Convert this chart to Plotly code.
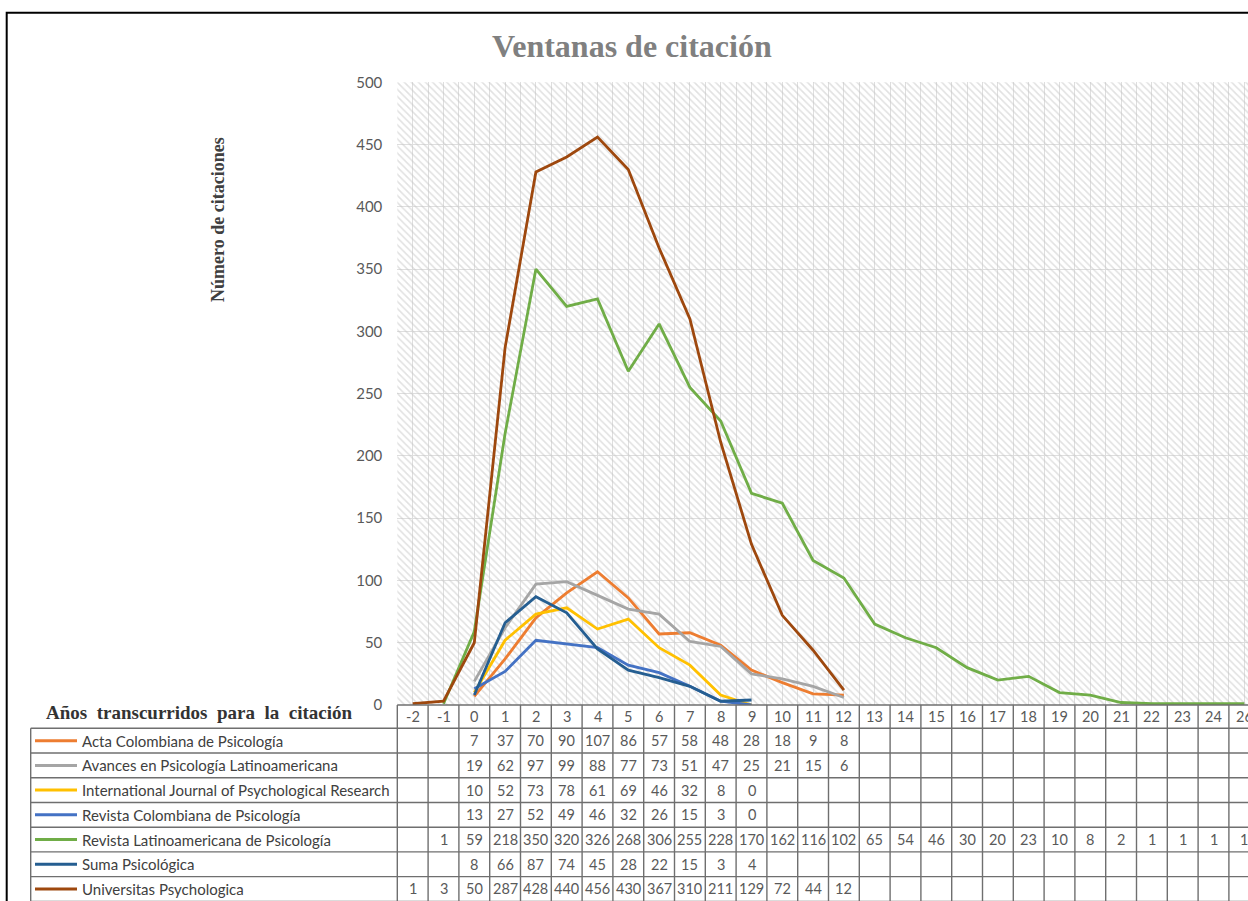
import plotly.graph_objects as go

# ---------------- data ----------------
categories = ["-2", "-1", "0", "1", "2", "3", "4", "5", "6", "7", "8", "9", "10", "11",
              "12", "13", "14", "15", "16", "17", "18", "19", "20", "21", "22", "23", "24", "26"]

acta = [None, None, 7, 37, 70, 90, 107, 86, 57, 58, 48, 28, 18, 9, 8]
avances = [None, None, 19, 62, 97, 99, 88, 77, 73, 51, 47, 25, 21, 15, 6]
ijpr = [None, None, 10, 52, 73, 78, 61, 69, 46, 32, 8, 0]
rev_col = [None, None, 13, 27, 52, 49, 46, 32, 26, 15, 3, 0]
rev_lat = [None, 1, 59, 218, 350, 320, 326, 268, 306, 255, 228, 170, 162, 116, 102,
           65, 54, 46, 30, 20, 23, 10, 8, 2, 1, 1, 1, 1]
suma = [None, None, 8, 66, 87, 74, 45, 28, 22, 15, 3, 4]
univ = [1, 3, 50, 287, 428, 440, 456, 430, 367, 310, 211, 129, 72, 44, 12]

series_names = ["Acta Colombiana de Psicología",
                "Avances en Psicología Latinoamericana",
                "International Journal of Psychological Research",
                "Revista Colombiana de Psicología",
                "Revista Latinoamericana de Psicología",
                "Suma Psicológica",
                "Universitas Psychologica"]
series_values = [acta, avances, ijpr, rev_col, rev_lat, suma, univ]
series_colors = ["#ED7D31", "#A5A5A5", "#FFC000", "#4472C4", "#70AD47", "#255E91", "#9E480E"]

title_text = "Ventanas de citación"
y_title_text = "Número de citaciones"
x_title_text = "Años  transcurridos  para  la  citación"
Y_MAX = 500
Y_STEP = 50

# ---------------- layout helpers ----------------
W, H = 1248, 901
n = len(categories)
idx = list(range(n))


def pad(vals):
    return list(vals) + [None] * (n - len(vals))


def px(p):
    return p / W


def py(p):
    return 1 - p / H


X0 = 397.3          # plot-area left edge (px)
COLW = 30.8         # column width (px)
x_right = (W - X0) / COLW - 0.5
Y_TOP, Y_BOT = 82.3, 705.0

HEADER_TOP = 705.0
HEADER_BOT = 728.3
ROW_H = 24.72
row_edges = [HEADER_BOT + k * ROW_H for k in range(len(series_names) + 1)]
LEG_LEFT = 30.7

GRID = "#dedede"
TABLE_LINE = "#6f6f6f"
NUM_COLOR = "#595959"
SANS = "Lato, 'Open Sans', sans-serif"
SERIF = "'Liberation Serif', 'Times New Roman', serif"

fig = go.Figure()

# hatch background of the plot area
fig.add_trace(go.Bar(
    x=idx, y=[Y_MAX] * n, width=1,
    marker=dict(color="rgba(0,0,0,0)", line_width=0,
                pattern=dict(shape="\\", fgcolor="#c4c4c4", bgcolor="rgba(0,0,0,0)",
                             size=5, solidity=0.32)),
    hoverinfo="skip", showlegend=False))

for name, vals, color in zip(series_names, series_values, series_colors):
    fig.add_trace(go.Scatter(
        x=idx, y=pad(vals), mode="lines", name=name,
        line=dict(color=color, width=2.8), connectgaps=False, showlegend=False))

shapes = []
annotations = []

# outer black frame
shapes.append(dict(type="rect", xref="paper", yref="paper",
                   x0=px(6.7), x1=1.05, y0=-0.05, y1=py(12.7),
                   line=dict(color="black", width=2), fillcolor="rgba(0,0,0,0)", layer="above"))

# table horizontal lines
shapes.append(dict(type="line", xref="paper", yref="paper", x0=px(X0), x1=1,
                   y0=py(HEADER_TOP), y1=py(HEADER_TOP),
                   line=dict(color=TABLE_LINE, width=1.4), layer="above"))
for e in row_edges:
    shapes.append(dict(type="line", xref="paper", yref="paper", x0=px(LEG_LEFT), x1=1,
                       y0=py(e), y1=py(e), line=dict(color=TABLE_LINE, width=1.4), layer="above"))
# table vertical lines
shapes.append(dict(type="line", xref="paper", yref="paper", x0=px(X0), x1=px(X0),
                   y0=py(HEADER_TOP), y1=-0.05, line=dict(color=TABLE_LINE, width=1.4), layer="above"))
shapes.append(dict(type="line", xref="paper", yref="paper", x0=px(LEG_LEFT), x1=px(LEG_LEFT),
                   y0=py(HEADER_BOT), y1=-0.05, line=dict(color=TABLE_LINE, width=1.4), layer="above"))
for i in range(1, n + 1):
    shapes.append(dict(type="line", xref="x", yref="paper", x0=i - 0.5, x1=i - 0.5,
                       y0=py(HEADER_TOP), y1=-0.05, line=dict(color=TABLE_LINE, width=1.4), layer="above"))

# header row (categories)
hy = py((HEADER_TOP + HEADER_BOT) / 2)
for i, c in zip(idx, categories):
    annotations.append(dict(xref="x", yref="paper", x=i, y=hy, text=c, showarrow=False,
                            font=dict(family=SANS, size=14.5, color=NUM_COLOR),
                            xanchor="center", yanchor="middle"))

# series rows
for r, (name, vals, color) in enumerate(zip(series_names, series_values, series_colors)):
    cy = (row_edges[r] + row_edges[r + 1]) / 2
    shapes.append(dict(type="line", xref="paper", yref="paper", x0=px(35), x1=px(77),
                       y0=py(cy), y1=py(cy), line=dict(color=color, width=3), layer="above"))
    annotations.append(dict(xref="paper", yref="paper", x=px(80), y=py(cy), text=name,
                            showarrow=False, xanchor="left", yanchor="middle",
                            font=dict(family=SANS, size=15, color="#404040")))
    for i, v in zip(idx, pad(vals)):
        if v is None:
            continue
        annotations.append(dict(xref="x", yref="paper", x=i, y=py(cy), text=str(v),
                                showarrow=False, xanchor="center", yanchor="middle",
                                font=dict(family=SANS, size=14.5, color=NUM_COLOR)))

# titles
annotations.append(dict(xref="paper", yref="paper", x=px(631.5), y=py(46), text=f"<b>{title_text}</b>",
                        showarrow=False, xanchor="center", yanchor="middle",
                        font=dict(family=SERIF, size=32, color="#808080")))
annotations.append(dict(xref="paper", yref="paper", x=px(218), y=py(220), text=f"<b>{y_title_text}</b>",
                        showarrow=False, xanchor="center", yanchor="middle", textangle=-90,
                        font=dict(family=SERIF, size=18, color="#404040")))
annotations.append(dict(xref="paper", yref="paper", x=px(44), y=py(712), text=f"<b>{x_title_text}</b>",
                        showarrow=False, xanchor="left", yanchor="middle",
                        font=dict(family=SERIF, size=19, color="#333333")))

fig.update_layout(
    width=W, height=H, autosize=False,
    margin=dict(l=0, r=0, t=0, b=0, pad=0, autoexpand=False),
    paper_bgcolor="white", plot_bgcolor="white",
    showlegend=False, bargap=0,
    xaxis=dict(domain=[px(X0), 1], range=[-0.5, x_right], showgrid=True, gridcolor=GRID,
               gridwidth=1, tick0=-0.5, dtick=0.5, showticklabels=False, ticks="",
               zeroline=False, showline=False, fixedrange=True, automargin=False),
    yaxis=dict(domain=[py(Y_BOT), py(Y_TOP)], range=[0, Y_MAX], dtick=Y_STEP, showgrid=True,
               gridcolor=GRID, gridwidth=1, zeroline=False, showline=False, ticks="",
               tickfont=dict(family=SANS, size=15, color=NUM_COLOR), ticklabelstandoff=14,
               fixedrange=True, automargin=False),
    shapes=shapes, annotations=annotations,
)

fig.write_html("out.html",
               config={"displayModeBar": False, "staticPlot": True},
               post_script="document.body.style.margin='0';document.body.style.overflow='hidden';")
